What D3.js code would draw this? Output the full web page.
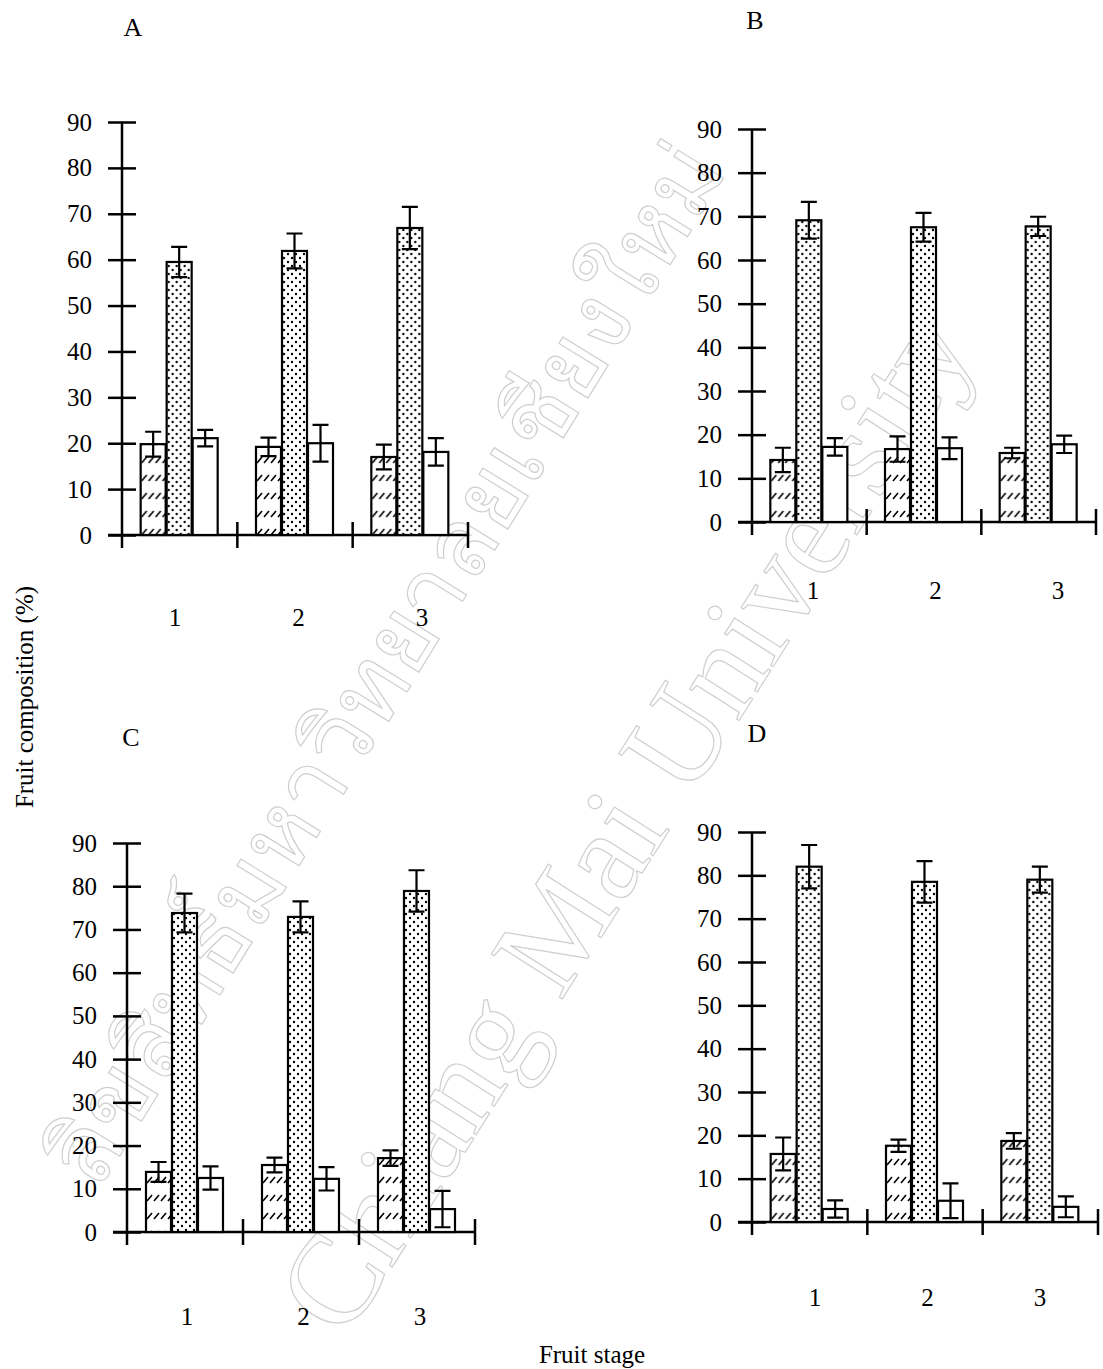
<!DOCTYPE html>
<html>
<head>
<meta charset="utf-8">
<script src="https://cdn.jsdelivr.net/npm/d3@7"></script>
<style>
  body { margin: 0; background: #fff; }
  svg { display: block; }
  text { font-family: "Liberation Serif", "Times New Roman", serif; fill: #000; }
</style>
</head>
<body>
<div id="chart"></div>
<script>
// fruit stages and the three fruit parts (hatched, dotted, open bars)
const stages = ["1", "2", "3"];
const parts = ["part1", "part2", "part3"];
const yTicks = [0, 10, 20, 30, 40, 50, 60, 70, 80, 90];

// means per stage [part1, part2, part3]
const meanA = [[19.8, 59.5, 21.1], [19.2, 61.9, 20.0], [17.0, 66.9, 18.1]];
const errA  = [[2.7, 3.3, 1.8], [2.0, 3.8, 4.0], [2.7, 4.6, 3.0]];
const meanB = [[14.2, 69.1, 17.2], [16.7, 67.5, 16.9], [15.8, 67.7, 17.8]];
const errB  = [[2.8, 4.2, 2.0], [2.9, 3.3, 2.5], [1.2, 2.2, 2.0]];
const meanC = [[13.9, 73.8, 12.5], [15.5, 72.9, 12.3], [17.1, 78.9, 5.3]];
const errC  = [[2.3, 4.5, 2.7], [1.7, 3.6, 2.7], [1.8, 4.8, 4.2]];
const meanD = [[15.7, 82.0, 3.0], [17.6, 78.5, 4.9], [18.7, 79.0, 3.5]];
const errD  = [[3.8, 5.0, 2.0], [1.4, 4.8, 4.0], [1.8, 3.0, 2.4]];

const width = 1103, height = 1369;

// panel placement on the page
const panels = [
    { name: "A", mean: meanA, err: errA, left: 122, right: 468, top: 122, bottom: 535, tx: 133, ty: 27,  labels: [175, 422], labelY: 617 },
    { name: "B", mean: meanB, err: errB, left: 752, right: 1096, top: 129, bottom: 522, tx: 755, ty: 20,  labels: [813, 1058], labelY: 590 },
    { name: "C", mean: meanC, err: errC, left: 127, right: 475, top: 843, bottom: 1232, tx: 131, ty: 737, labels: [187, 420], labelY: 1316 },
    { name: "D", mean: meanD, err: errD, left: 752, right: 1098, top: 832, bottom: 1222, tx: 757, ty: 733, labels: [815, 1040], labelY: 1297 }
];

const svg = d3.select("#chart").append("svg")
    .attr("width", width)
    .attr("height", height)
    .attr("viewBox", [0, 0, width, height]);

svg.append("rect").attr("width", width).attr("height", height).attr("fill", "#fff");

// fill patterns
const defs = svg.append("defs");
const hatch = defs.append("pattern")
    .attr("id", "hatch")
    .attr("patternUnits", "userSpaceOnUse")
    .attr("width", 7).attr("height", 18);
hatch.append("rect").attr("width", 7).attr("height", 18).attr("fill", "#fff");
hatch.append("line")
    .attr("x1", 1).attr("y1", 13).attr("x2", 6).attr("y2", 7)
    .attr("stroke", "#000").attr("stroke-width", 1.6);

const dots = defs.append("pattern")
    .attr("id", "dots")
    .attr("patternUnits", "userSpaceOnUse")
    .attr("width", 8).attr("height", 8);
dots.append("rect").attr("width", 8).attr("height", 8).attr("fill", "#fff");
dots.append("circle").attr("cx", 2).attr("cy", 2).attr("r", 1.2).attr("fill", "#000");
dots.append("circle").attr("cx", 6).attr("cy", 6).attr("r", 1.2).attr("fill", "#000");

const fills = { part1: "url(#hatch)", part2: "url(#dots)", part3: "#fff" };

// faint outlined watermark behind the charts
const wm = svg.append("g").attr("fill", "none").attr("stroke", "#cfcfcf").attr("stroke-width", 1.2);
wm.append("text")
    .attr("transform", "translate(625,820) rotate(-57.6)")
    .attr("text-anchor", "middle")
    .attr("dominant-baseline", "central")
    .style("font-size", "128px")
    .style("fill", "none")
    .text("Chiang Mai University");
wm.append("text")
    .attr("transform", "translate(385,665) rotate(-58.3)")
    .attr("text-anchor", "middle")
    .attr("dominant-baseline", "central")
    .style("font-size", "96px")
    .style("fill", "none")
    .text("ลิขสิทธิ์มหาวิทยาลัยเชียงใหม่");

function drawPanel(p) {
    const g = svg.append("g");
    const y = d3.scaleLinear().domain([0, 90]).range([p.bottom, p.top]);
    const x = d3.scaleBand().domain(stages).range([p.left, p.right]);
    const groupW = 78;
    const inner = d3.scaleBand().domain(parts)
        .range([(x.bandwidth() - groupW) / 2, (x.bandwidth() + groupW) / 2]);

    // y axis ticks and labels
    g.append("g")
        .attr("transform", `translate(${p.left},0)`)
        .call(d3.axisLeft(y).tickValues(yTicks).tickSize(0).tickPadding(30))
        .call(a => a.select(".domain").remove())
        .call(a => a.selectAll(".tick line")
            .attr("x1", -14).attr("x2", 14)
            .attr("stroke", "#000").attr("stroke-width", 2.5))
        .call(a => a.selectAll(".tick text")
            .style("font-size", "25px")
            .attr("fill", "#000"));

    g.append("line")
        .attr("x1", p.left).attr("x2", p.left)
        .attr("y1", y(90)).attr("y2", y(0) + 13)
        .attr("stroke", "#000").attr("stroke-width", 2.5);

    // x axis with dividers between stages
    g.append("line")
        .attr("x1", p.left - 14).attr("x2", p.right)
        .attr("y1", y(0)).attr("y2", y(0))
        .attr("stroke", "#000").attr("stroke-width", 2.5);
    g.selectAll(".divider").data(stages).join("line")
        .attr("x1", d => x(d) + x.bandwidth()).attr("x2", d => x(d) + x.bandwidth())
        .attr("y1", y(0) - 13).attr("y2", y(0) + 13)
        .attr("stroke", "#000").attr("stroke-width", 2.5);

    // bars and error bars
    const rows = [];
    stages.forEach((s, i) => parts.forEach((k, j) => {
        rows.push({ stage: s, part: k, v: p.mean[i][j], e: p.err[i][j] });
    }));

    const bar = g.selectAll(".bar").data(rows).join("g")
        .attr("transform", d => `translate(${x(d.stage) + inner(d.part)},0)`);

    bar.append("rect")
        .attr("x", 0)
        .attr("y", d => y(d.v))
        .attr("width", inner.bandwidth() - 1)
        .attr("height", d => y(0) - y(d.v))
        .attr("fill", d => fills[d.part])
        .attr("stroke", "#000")
        .attr("stroke-width", 2.2);

    const cx = (inner.bandwidth() - 1) / 2;
    bar.append("path")
        .attr("d", d => {
            const t = y(d.v + d.e), b = y(Math.max(0, d.v - d.e));
            return `M${cx},${t}V${b}M${cx - 8},${t}H${cx + 8}M${cx - 8},${b}H${cx + 8}`;
        })
        .attr("fill", "none")
        .attr("stroke", "#000")
        .attr("stroke-width", 2.2);

    // stage labels
    const lx = d3.scalePoint().domain(stages).range(p.labels);
    g.selectAll(".stage").data(stages).join("text")
        .attr("x", d => lx(d))
        .attr("y", p.labelY)
        .attr("text-anchor", "middle")
        .attr("dominant-baseline", "central")
        .style("font-size", "25px")
        .text(d => d);

    // panel letter
    g.append("text")
        .attr("x", p.tx).attr("y", p.ty)
        .attr("text-anchor", "middle")
        .attr("dominant-baseline", "central")
        .style("font-size", "26px")
        .text(p.name);
}

panels.forEach(drawPanel);

// shared axis titles
svg.append("text")
    .attr("transform", "translate(24,697) rotate(-90)")
    .attr("text-anchor", "middle")
    .attr("dominant-baseline", "central")
    .style("font-size", "25px")
    .text("Fruit composition (%)");

svg.append("text")
    .attr("x", 592).attr("y", 1354)
    .attr("text-anchor", "middle")
    .attr("dominant-baseline", "central")
    .style("font-size", "25px")
    .text("Fruit stage");
</script>
</body>
</html>
